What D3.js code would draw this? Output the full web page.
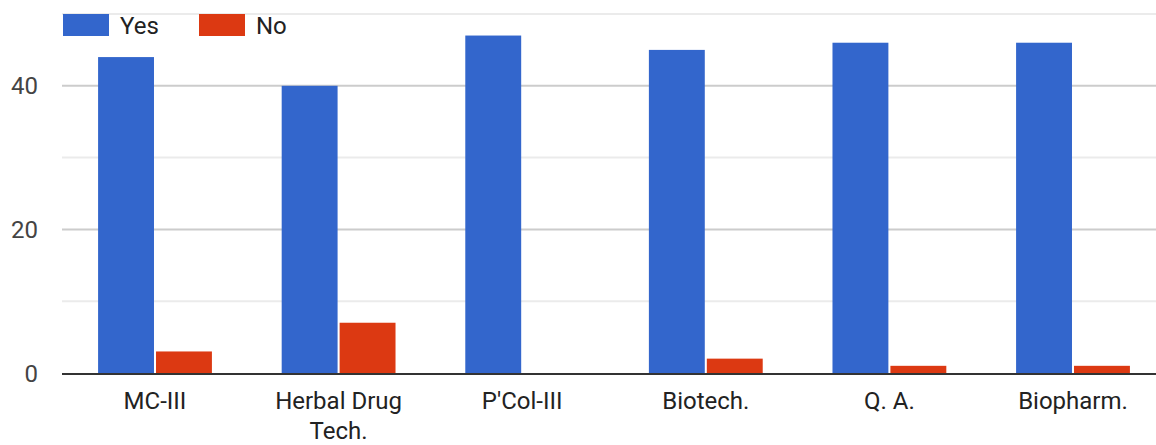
<!DOCTYPE html>
<html>
<head>
<meta charset="utf-8">
<script src="https://cdn.jsdelivr.net/npm/d3@7"></script>
<style>
  html, body { margin: 0; padding: 0; background: #fff; }
  svg { display: block; font-family: Roboto, Arial, sans-serif; }
</style>
</head>
<body>
<svg id="chart" width="1156" height="445"></svg>
<script>
const categories = ["MC-III", "Herbal Drug Tech.", "P'Col-III", "Biotech.", "Q. A.", "Biopharm."];
const categoryLines = [["MC-III"], ["Herbal Drug", "Tech."], ["P'Col-III"], ["Biotech."], ["Q. A."], ["Biopharm."]];
const seriesNames = ["Yes", "No"];
const yesValues = [44, 40, 47, 45, 46, 46];
const noValues = [3, 7, 0, 2, 1, 1];
const yTicks = [0, 20, 40];
const gridTicks = [10, 20, 30, 40, 50];
const colors = ["#3366cc", "#dc3912"];

const svg = d3.select("#chart");
const W = 1156, H = 445;
const plot = { left: 63.2, right: 1164.8, top: 14, bottom: 373 };

const y = d3.scaleLinear().domain([0, 50]).range([plot.bottom, plot.top]);
const x = d3.scaleBand().domain(categories).range([plot.left, plot.right])
  .paddingInner(0.38).paddingOuter(0.19);
const xs = d3.scaleBand().domain(seriesNames).range([0, x.bandwidth()]).paddingInner(0.035);

// gridlines
svg.append("g").selectAll("line").data(gridTicks).join("line")
  .attr("x1", 62).attr("x2", W)
  .attr("y1", d => y(d)).attr("y2", d => y(d))
  .attr("stroke", d => d % 20 === 0 ? "#cccccc" : "#ebebeb")
  .attr("stroke-width", 2);

// y tick labels
svg.append("g").selectAll("text").data(yTicks).join("text")
  .attr("x", 38).attr("y", d => y(d))
  .attr("dy", "0.36em")
  .attr("text-anchor", "end")
  .attr("font-size", 24)
  .attr("fill", "#444")
  .text(d => d);

// bars
const data = categories.map((c, i) => ({ cat: c, values: [yesValues[i], noValues[i]] }));
const groups = svg.append("g").selectAll("g").data(data).join("g")
  .attr("transform", d => `translate(${x(d.cat)},0)`);
groups.selectAll("rect")
  .data(d => d.values.map((v, j) => ({ key: seriesNames[j], v, j })))
  .join("rect")
  .attr("x", d => xs(d.key))
  .attr("width", xs.bandwidth())
  .attr("y", d => y(d.v))
  .attr("height", d => y(0) - y(d.v))
  .attr("fill", d => colors[d.j]);

// zero baseline
svg.append("line")
  .attr("x1", 62).attr("x2", W)
  .attr("y1", y(0) + 1).attr("y2", y(0) + 1)
  .attr("stroke", "#333").attr("stroke-width", 2);

// category labels
const labels = svg.append("g").selectAll("text").data(categories).join("text")
  .attr("x", d => x(d) + x.bandwidth() / 2)
  .attr("y", 409)
  .attr("text-anchor", "middle")
  .attr("font-size", 24)
  .attr("fill", "#222");
labels.each(function(d, i) {
  const t = d3.select(this);
  categoryLines[i].forEach((line, k) => {
    t.append("tspan")
      .attr("x", x(d) + x.bandwidth() / 2)
      .attr("dy", k === 0 ? 0 : 30)
      .text(line);
  });
});

// legend
const legendX = [63, 199];
const lg = svg.append("g").selectAll("g").data(seriesNames).join("g")
  .attr("transform", (d, i) => `translate(${legendX[i]},14)`);
lg.append("rect").attr("width", 46).attr("height", 22)
  .attr("fill", (d, i) => colors[i]);
lg.append("text").attr("x", 57).attr("y", 19.5)
  .attr("font-size", 24).attr("fill", "#222")
  .text(d => d);
</script>
</body>
</html>
